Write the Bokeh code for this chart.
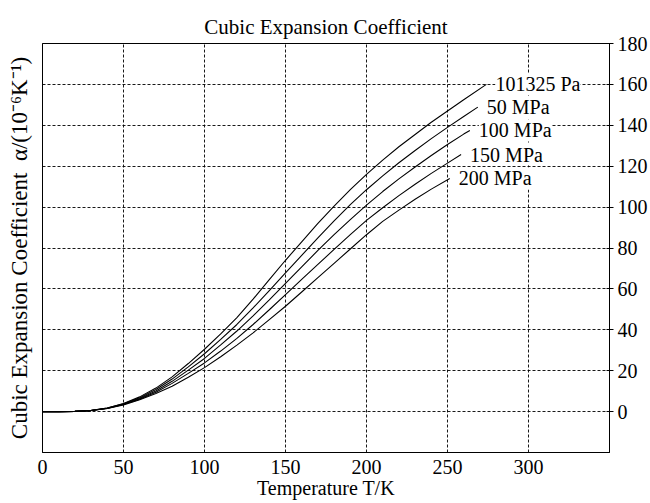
from bokeh.plotting import figure
from bokeh.models import LinearAxis, FixedTicker, Range1d, LabelSet, ColumnDataSource
from bokeh.embed import file_html
from bokeh.resources import INLINE

FONT = "Liberation Serif"

# ---- data ----
x_ticks = [0, 50, 100, 150, 200, 250, 300]
y_ticks = [0, 20, 40, 60, 80, 100, 120, 140, 160, 180]

series_names = ["101325 Pa", "50 MPa", "100 MPa", "150 MPa", "200 MPa"]

T_101325 = [0, 10, 20, 30, 40, 50, 60, 70, 80, 90, 100, 110, 120, 130, 140, 150, 160,
            170, 180, 190, 200, 210, 220, 230, 240, 250, 260, 274]
a_101325 = [0, 0, 0.1, 0.6, 1.8, 4.0, 7.2, 11.5, 17.0, 23.5, 30.5, 38.0, 46.0, 55.0, 64.5,
            74.0, 83.0, 92.0, 100.5, 108.5, 116.0, 123.0, 129.5, 135.5, 141.5, 147.0, 152.5, 160.0]

T_50 = [0, 10, 20, 30, 40, 50, 60, 70, 80, 90, 100, 110, 120, 130, 140, 150, 160,
        170, 180, 190, 200, 210, 220, 230, 240, 250, 260, 268.7]
a_50 = [0, 0, 0.1, 0.55, 1.7, 3.8, 6.8, 10.8, 15.9, 21.9, 28.3, 35.3, 42.6, 50.7, 59.2,
        67.8, 76.4, 85.0, 93.3, 101.2, 108.5, 115.3, 121.7, 127.7, 133.5, 139.0, 144.3, 148.9]

T_100 = [0, 10, 20, 30, 40, 50, 60, 70, 80, 90, 100, 110, 120, 130, 140, 150, 160,
         170, 180, 190, 200, 210, 220, 230, 240, 250, 260, 263.8]
a_100 = [0, 0, 0.1, 0.5, 1.6, 3.6, 6.4, 10.1, 14.8, 20.3, 26.0, 32.6, 39.4, 46.8, 54.6,
         62.7, 70.8, 78.8, 86.5, 93.9, 101.0, 107.6, 113.8, 119.6, 125.2, 130.6, 135.7, 137.5]

T_150 = [0, 10, 20, 30, 40, 50, 60, 70, 80, 90, 100, 110, 120, 130, 140, 150, 160,
         170, 180, 190, 200, 210, 220, 230, 240, 250, 258.4]
a_150 = [0, 0, 0.1, 0.5, 1.55, 3.45, 6.1, 9.5, 13.8, 18.7, 23.8, 29.6, 35.8, 42.6, 49.8,
         57.2, 64.7, 72.0, 79.3, 86.5, 93.5, 99.7, 105.6, 111.2, 116.5, 121.5, 125.7]

T_200 = [0, 10, 20, 30, 40, 50, 60, 70, 80, 90, 100, 110, 120, 130, 140, 150, 160,
         170, 180, 190, 200, 210, 220, 230, 240, 251.4]
a_200 = [0, 0, 0.1, 0.5, 1.5, 3.3, 5.8, 8.8, 12.4, 16.8, 21.5, 26.8, 32.5, 38.5, 45.0,
         51.5, 58.5, 65.5, 72.5, 79.5, 86.5, 93.0, 98.5, 103.8, 108.8, 114.0]

series_T = [T_101325, T_50, T_100, T_150, T_200]
series_a = [a_101325, a_50, a_100, a_150, a_200]

# ---- figure ----
p = figure(width=650, height=503, output_backend="svg", toolbar_location=None,
           x_range=Range1d(0, 350), y_range=Range1d(-20, 180),
           y_axis_location="right",
           min_border_left=42, min_border_right=40, min_border_top=43, min_border_bottom=51,
           background_fill_color="white", border_fill_color="white")

p.title.text = "Cubic Expansion Coefficient"
p.title.align = "center"
p.title.text_font = FONT
p.title.text_font_size = "21px"
p.title.text_font_style = "normal"
p.title.text_color = "black"
p.title.standoff = 9

p.outline_line_color = "black"
p.outline_line_width = 1
p.outline_line_alpha = 1

# x axis
xa = p.xaxis[0]
xa.ticker = FixedTicker(ticks=x_ticks)
xa.major_tick_out = 0
xa.major_tick_in = 0
xa.minor_tick_line_color = None
xa.axis_line_color = "black"
xa.major_label_standoff = 7
xa.major_label_text_font = FONT
xa.major_label_text_font_size = "20px"
xa.major_label_text_color = "black"
xa.axis_label = "Temperature T/K"
xa.axis_label_standoff = 0
xa.axis_label_text_font = FONT
xa.axis_label_text_font_size = "20px"
xa.axis_label_text_font_style = "normal"
xa.axis_label_text_color = "black"

# right y axis (primary)
ya = p.yaxis[0]
ya.ticker = FixedTicker(ticks=y_ticks)
ya.major_tick_out = 4
ya.major_tick_in = 3
ya.major_tick_line_color = "black"
ya.minor_tick_line_color = None
ya.axis_line_color = "black"
ya.major_label_standoff = 4
ya.major_label_text_font = FONT
ya.major_label_text_font_size = "20px"
ya.major_label_text_color = "black"

# left axis: only the label
left = LinearAxis(ticker=FixedTicker(ticks=[]),
                  axis_label="Cubic Expansion Coefficient\u2002\u03b1/(10\u207b\u2076K\u207b\u00b9)",
                  axis_label_text_font=FONT, axis_label_text_font_size="23px",
                  axis_label_text_font_style="normal", axis_label_text_color="black",
                  axis_label_standoff=11, major_tick_out=0, major_tick_in=0,
                  major_label_standoff=0, minor_tick_line_color=None,
                  axis_line_color="black")
p.add_layout(left, "left")

# grids
for g in (p.xgrid[0], p.ygrid[0]):
    g.grid_line_color = "black"
    g.grid_line_dash = "3 2"
    g.grid_line_width = 1
    g.grid_line_alpha = 0.9

# curves
for T, a in zip(series_T, series_a):
    p.line(T, a, line_color="black", line_width=1.1)

# curve labels
lab_src = ColumnDataSource(dict(
    x=[T[-1] for T in series_T],
    y=[a[-1] for a in series_a],
    text=series_names,
))
labels = LabelSet(x="x", y="y", text="text", source=lab_src,
                  x_offset=9, text_baseline="middle", text_align="left",
                  text_font=FONT, text_font_size="20px", text_color="black",
                  background_fill_color="white")
p.add_layout(labels)

open("out.html", "w").write(file_html(p, INLINE))
